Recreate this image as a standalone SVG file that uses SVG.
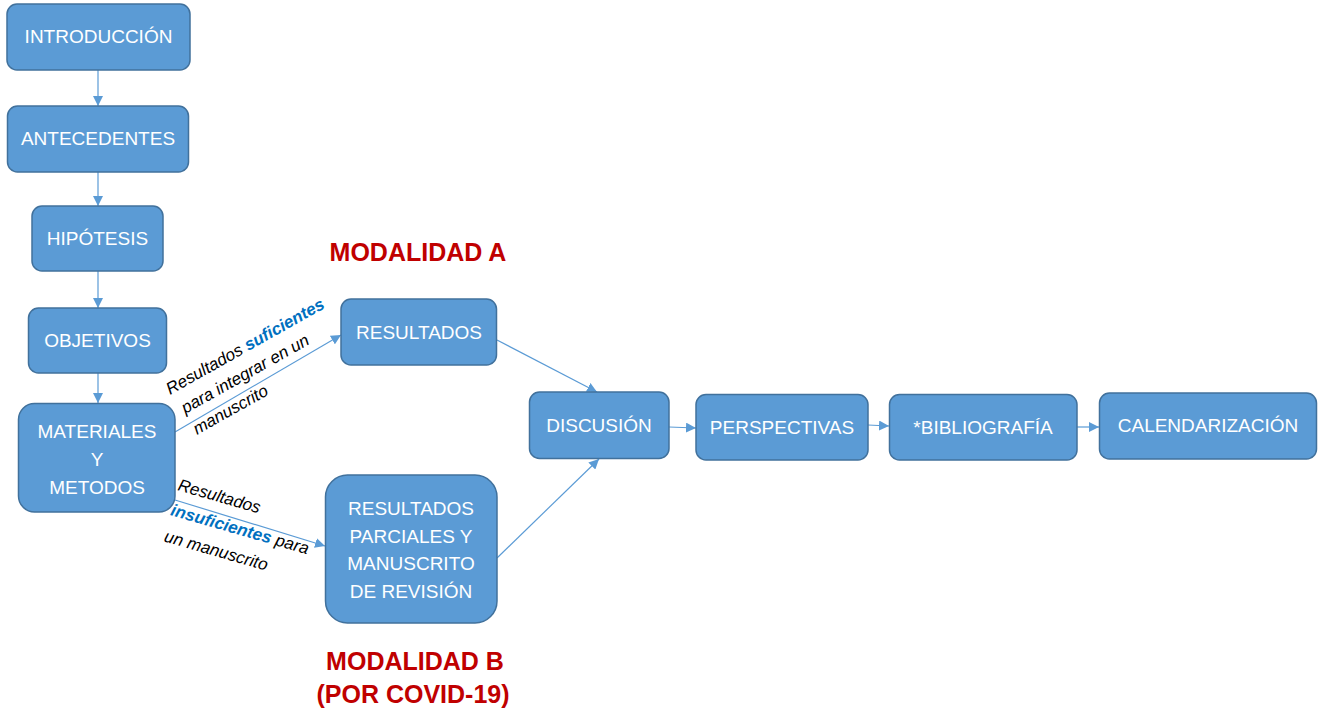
<svg xmlns="http://www.w3.org/2000/svg" width="1318" height="713" viewBox="0 0 1318 713">
<defs>
<marker id="ah" viewBox="0 0 10 10" refX="10" refY="5" markerWidth="10" markerHeight="10" markerUnits="userSpaceOnUse" orient="auto">
<path d="M0,0 L10,5 L0,10 z" fill="#5B9BD5"/>
</marker>
<style>
.box{fill:#5B9BD5;stroke:#41719C;stroke-width:1.5}
.lbl{font-family:"Liberation Sans",Arial,sans-serif;font-size:19px;fill:#FFFFFF;text-anchor:middle}
.conn{stroke:#5B9BD5;stroke-width:1.2;fill:none;marker-end:url(#ah)}
.note{font-family:"Liberation Sans",Arial,sans-serif;font-size:17px;font-style:italic;fill:#000000}
.em{font-weight:bold;fill:#0070C0}
.mod{font-family:"Liberation Sans",Arial,sans-serif;font-size:25px;font-weight:bold;fill:#C00000;text-anchor:middle}
</style>
</defs>
<rect width="1318" height="713" fill="#FFFFFF"/>

<g id="connectors">
<line class="conn" x1="98" y1="70" x2="98" y2="106"/>
<line class="conn" x1="98" y1="172" x2="98" y2="206"/>
<line class="conn" x1="98" y1="271" x2="98" y2="308"/>
<line class="conn" x1="98" y1="373" x2="98" y2="403"/>
<line class="conn" x1="175" y1="432" x2="341" y2="335"/>
<line class="conn" x1="175" y1="500" x2="325" y2="546"/>
<line class="conn" x1="497" y1="340" x2="597" y2="392"/>
<line class="conn" x1="497" y1="558" x2="599" y2="459"/>
<line class="conn" x1="669" y1="427" x2="696" y2="428"/>
<line class="conn" x1="868" y1="425" x2="889" y2="426"/>
<line class="conn" x1="1077" y1="427" x2="1099" y2="427"/>
</g>

<g id="n-introduccion">
<rect class="box" x="7" y="4" width="183" height="66" rx="10"/>
<text class="lbl" x="98.5" y="43">INTRODUCCIÓN</text>
</g>
<g id="n-antecedentes">
<rect class="box" x="7.5" y="106" width="181" height="66" rx="10"/>
<text class="lbl" x="98" y="145">ANTECEDENTES</text>
</g>
<g id="n-hipotesis">
<rect class="box" x="32" y="206" width="131" height="65" rx="10"/>
<text class="lbl" x="97.5" y="245">HIPÓTESIS</text>
</g>
<g id="n-objetivos">
<rect class="box" x="28.5" y="308" width="138" height="65" rx="10"/>
<text class="lbl" x="97.5" y="347">OBJETIVOS</text>
</g>
<g id="n-materiales">
<rect class="box" x="18.5" y="403.5" width="156.5" height="108.5" rx="16"/>
<text class="lbl" x="97" y="438">MATERIALES</text>
<text class="lbl" x="97" y="466">Y</text>
<text class="lbl" x="97" y="494">METODOS</text>
</g>
<g id="n-resultados">
<rect class="box" x="341" y="299" width="155.5" height="66" rx="10"/>
<text class="lbl" x="419" y="339">RESULTADOS</text>
</g>
<g id="n-parciales">
<rect class="box" x="325.5" y="475" width="171.5" height="148" rx="22"/>
<text class="lbl" x="411" y="515">RESULTADOS</text>
<text class="lbl" x="411" y="542.5">PARCIALES Y</text>
<text class="lbl" x="411" y="570">MANUSCRITO</text>
<text class="lbl" x="411" y="597.5">DE REVISIÓN</text>
</g>
<g id="n-discusion">
<rect class="box" x="529.5" y="392" width="139.5" height="66.5" rx="10"/>
<text class="lbl" x="599" y="432">DISCUSIÓN</text>
</g>
<g id="n-perspectivas">
<rect class="box" x="696" y="394.5" width="172" height="65.5" rx="10"/>
<text class="lbl" x="782" y="434">PERSPECTIVAS</text>
</g>
<g id="n-bibliografia">
<rect class="box" x="889.5" y="394.5" width="187.5" height="65.5" rx="10"/>
<text class="lbl" x="983" y="434">*BIBLIOGRAFÍA</text>
</g>
<g id="n-calendarizacion">
<rect class="box" x="1099.5" y="393" width="217" height="66" rx="10"/>
<text class="lbl" x="1208" y="432">CALENDARIZACIÓN</text>
</g>

<g id="label-a">
<text class="note" transform="translate(170,395) rotate(-29.3)"><tspan x="0" y="0">Resultados <tspan class="em">suficientes</tspan></tspan><tspan x="4" y="24">para integrar en un</tspan><tspan x="4" y="48">manuscrito</tspan></text>
</g>
<g id="label-b">
<text class="note" transform="translate(177,490) rotate(16)"><tspan x="0" y="0">Resultados</tspan><tspan x="0" y="26"><tspan class="em">insuficientes</tspan> para</tspan><tspan x="1" y="53">un manuscrito</tspan></text>
</g>

<g id="modalidad-a">
<text class="mod" x="418" y="261">MODALIDAD A</text>
</g>
<g id="modalidad-b">
<text class="mod" x="415" y="670">MODALIDAD B</text>
<text class="mod" x="413" y="703">(POR COVID-19)</text>
</g>
</svg>
